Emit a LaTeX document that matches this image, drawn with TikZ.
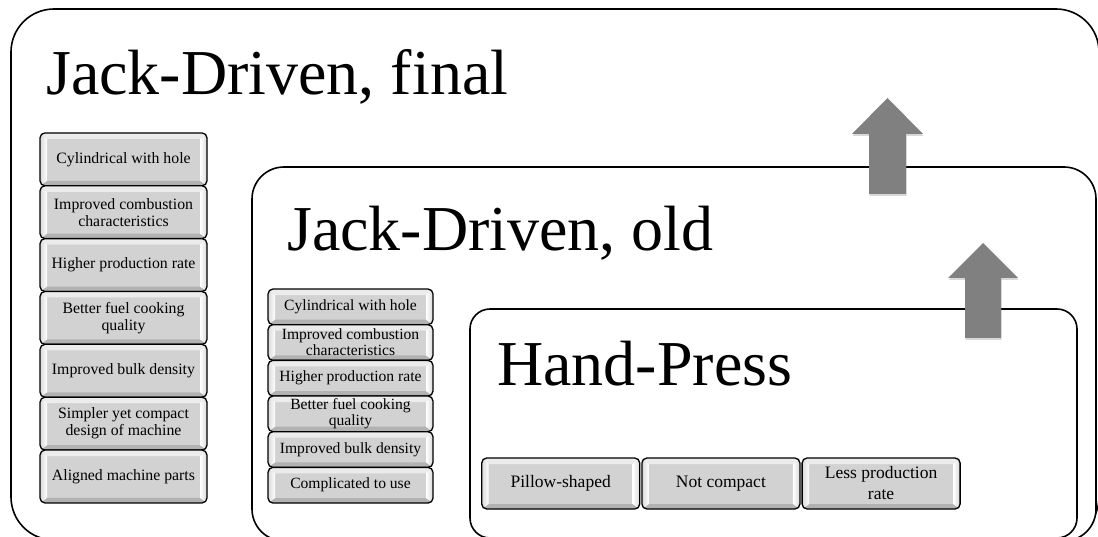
\documentclass[tikz,border=0pt]{standalone}
\usepackage{fontspec}
\setmainfont{Liberation Serif}
\usetikzlibrary{calc,shadows}

\tikzset{
  stage/.style={draw=black, line width=1.6pt, fill=white},
  stagetitle/.style={anchor=base west, inner sep=0pt, font=\fontsize{64}{70}\selectfont},
  bevel/.style={draw=black, line width=1.3pt, rounded corners=5pt, fill=gray!35,
    align=center, inner sep=0pt,
    path picture={
      \path (path picture bounding box.north west) coordinate (nw)
            (path picture bounding box.south east) coordinate (se);
      % top and bottom facets
      \fill[sharp corners, gray!15]
        (nw) -- (se|-nw) -- ($(se|-nw)+(-7pt,-6pt)$) -- ($(nw)+(7pt,-6pt)$) -- cycle;
      \fill[sharp corners, gray!60]
        (nw|-se) -- (se) -- ($(se)+(-7pt,5pt)$) -- ($(nw|-se)+(7pt,5pt)$) -- cycle;
      % left and right facets
      \shade[sharp corners, left color=gray!30, right color=white]
        (nw) -- ($(nw)+(7pt,-6pt)$) -- ($(nw|-se)+(7pt,5pt)$) -- (nw|-se) -- cycle;
      \shade[sharp corners, left color=white, right color=gray!30]
        (se|-nw) -- ($(se|-nw)+(-7pt,-6pt)$) -- ($(se)+(-7pt,5pt)$) -- (se) -- cycle;
    }},
  finalbox/.style={bevel, minimum width=167pt, minimum height=52.9pt,
    font=\fontsize{15.8}{17}\selectfont},
  oldbox/.style={bevel, minimum width=165pt, minimum height=35.7pt,
    font=\fontsize{15.6}{16}\selectfont},
  pressbox/.style={bevel, minimum width=158pt, minimum height=51pt,
    font=\fontsize{17.5}{21}\selectfont},
  uparrow/.style={fill=gray, draw=none,
    drop shadow={shadow xshift=0.5pt, shadow yshift=-2pt, opacity=0.3}}
}

\begin{document}
\begin{tikzpicture}[x=1pt, y=-1pt]
  \useasboundingbox (0,0) rectangle (1098,537);
  \clip (0,0) rectangle (1098,537);

  % stages
  \draw[stage, rounded corners=43pt] (11,9) rectangle (1099,540);
  \node[stagetitle] (tfinal) at (46,95) {Jack-Driven, final};
  \draw[stage, rounded corners=32pt] (252,167) rectangle (1096,541);
  \node[stagetitle] (told) at (287,251) {Jack-Driven, old};
  \draw[stage, rounded corners=20pt] (470,309) rectangle (1077,538);
  \node[stagetitle] (tpress) at (497,385) {Hand-Press};

  % final design features
  \foreach \txt [count=\i] in {Cylindrical with hole,
      {Improved combustion\\characteristics}, Higher production rate,
      {Better fuel cooking\\quality}, Improved bulk density,
      {Simpler yet compact\\design of machine}, Aligned machine parts}
    \node[finalbox] (f\i) at (123.5, {106.5+52.86*\i}) {\txt};

  % old design features
  \foreach \txt [count=\i] in {Cylindrical with hole,
      {Improved combustion\\characteristics}, Higher production rate,
      {Better fuel cooking\\quality}, Improved bulk density, Complicated to use}
    \node[oldbox] (o\i) at (350.5, {271.2+35.67*\i}) {\txt};

  % hand press features
  \foreach \txt [count=\i] in {Pillow-shaped, Not compact, {Less production\\rate}}
    \node[pressbox] (p\i) at ({400.5+160.2*\i}, 483.5) {\txt};

  % arrows
  \fill[uparrow] (869,194) -- (869,134) -- (852,134) -- (887.5,98)
    -- (923,134) -- (906,134) -- (906,194) -- cycle;
  \fill[uparrow] (965,338) -- (965,278) -- (948,278) -- (983,243)
    -- (1018,278) -- (1001,278) -- (1001,338) -- cycle;
\end{tikzpicture}
\end{document}
